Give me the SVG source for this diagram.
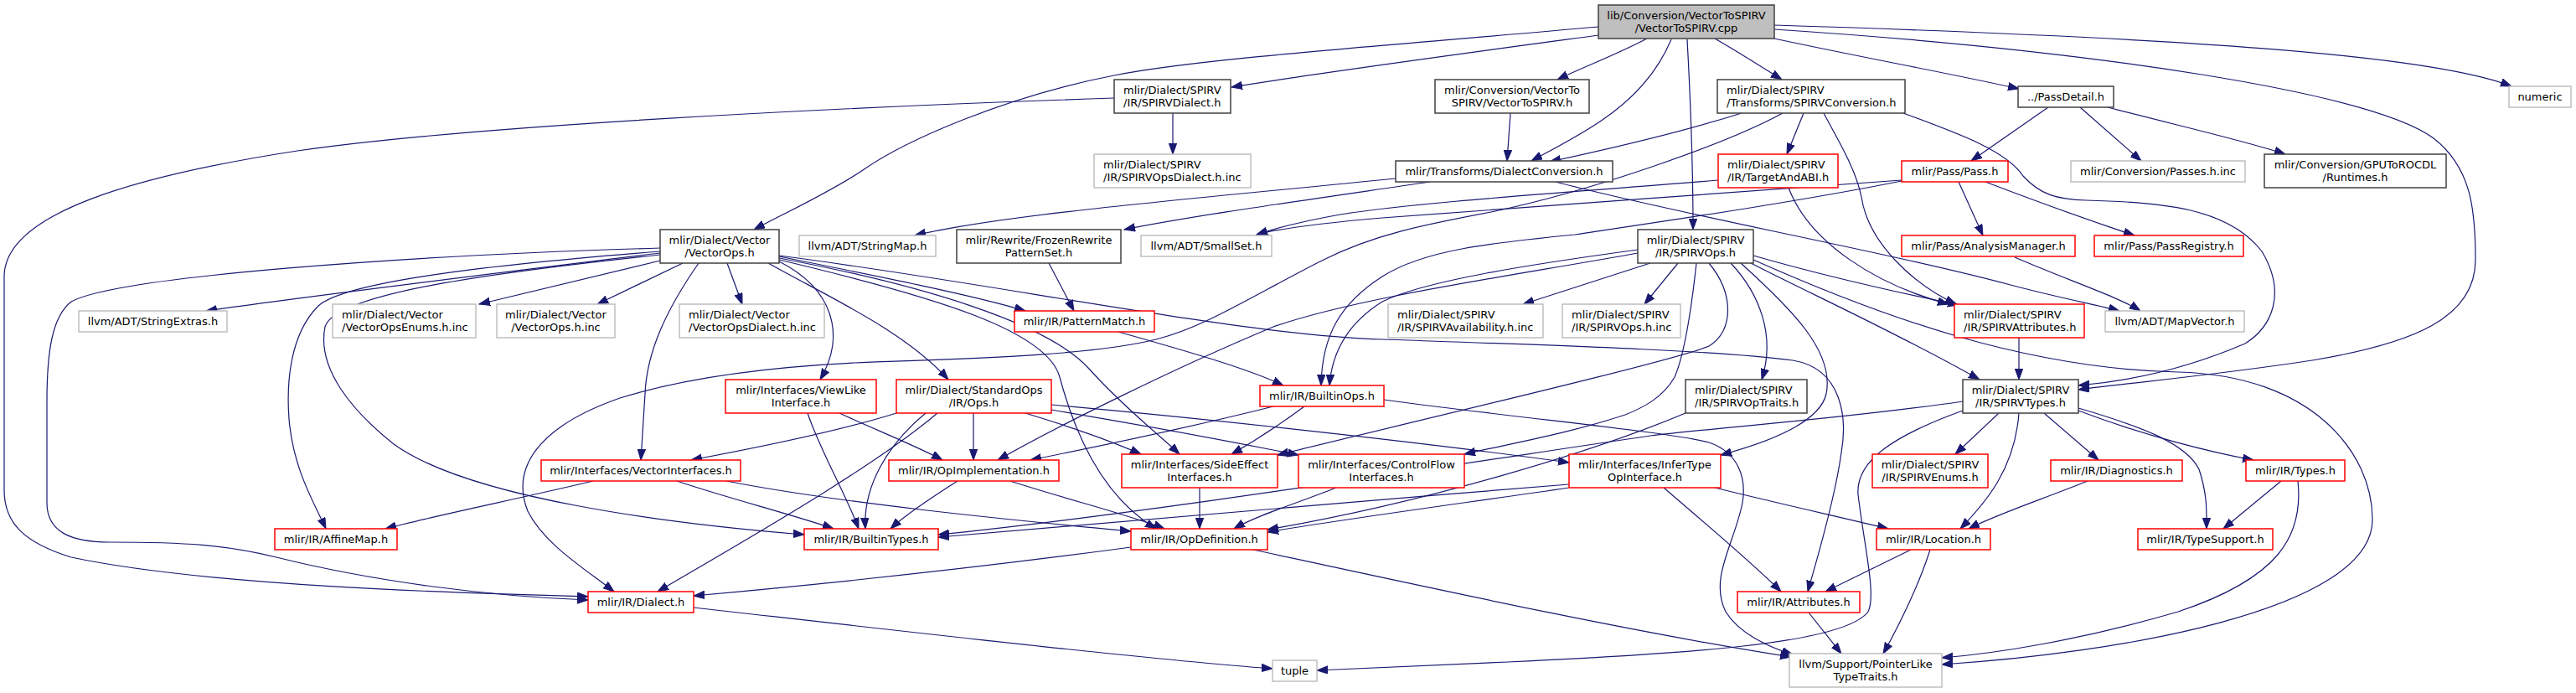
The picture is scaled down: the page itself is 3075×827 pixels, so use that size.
<svg xmlns="http://www.w3.org/2000/svg" width="3075" height="827" viewBox="0 0 3075 827">
<defs>
<marker id="a" markerUnits="userSpaceOnUse" markerWidth="15" markerHeight="11" refX="13" refY="5" orient="auto">
<path d="M0,0.3 L13,5 L0,9.7 Z" fill="#191970" stroke="#191970" stroke-width="1"/>
</marker>
</defs>
<style>
rect{fill:#ffffff;stroke-width:1.5}
.b{stroke:#404040}
.r{stroke:#ff0000}
.g{stroke:#bfbfbf}
.root{fill:#bfbfbf;stroke:#404040}
text{font-family:"DejaVu Sans","Liberation Sans",sans-serif;font-size:13px;fill:#000000}
.c{text-anchor:middle}
.l{text-anchor:start}
#edges path{fill:none;stroke:#191970;stroke-width:1.2;marker-end:url(#a)}
</style>
<rect width="3075" height="827" style="fill:#ffffff;stroke:none"/>
<g id="edges">
<path d="M1908,42 C1760,62 1580,86 1470,104"/>
<path d="M1908,32 C1650,55 1430,70 1330,90 C1200,115 1080,168 1030,203 C990,230 935,255 900,274"/>
<path d="M1966,46 C1930,65 1890,80 1859,95"/>
<path d="M1995,47 C1975,95 1940,125 1910,145 C1880,165 1850,180 1828,192"/>
<path d="M2014,47 C2018,120 2021,200 2021,274"/>
<path d="M2047,46 C2075,62 2100,78 2127,95"/>
<path d="M2118,46 C2220,68 2330,88 2410,106"/>
<path d="M2118,30 C2600,45 2900,65 2998,103"/>
<path d="M2118,35 C2500,60 2830,110 2905,165 C2950,200 2955,250 2955,310 C2955,380 2880,410 2760,430 C2650,447 2550,456 2481,465"/>
<path d="M1400,135 L1400,184"/>
<path d="M1330,117 C1000,128 560,150 355,180 C160,210 5,255 5,330 L5,585 C5,625 30,648 85,665 C250,700 560,708 702,712"/>
<path d="M1803,135 L1799,192"/>
<path d="M2079,135 C2000,160 1920,178 1850,193"/>
<path d="M2153,135 L2133,184"/>
<path d="M2177,135 C2190,160 2215,200 2222,235 C2230,290 2285,340 2335,363"/>
<path d="M2272,135 C2340,160 2395,180 2415,210 C2435,232 2455,238 2490,239 C2580,241 2660,248 2700,300 C2730,350 2712,390 2680,410 C2610,440 2540,455 2481,460"/>
<path d="M2128,135 C2060,172 1900,228 1780,253 C1700,268 1640,280 1580,310 C1500,350 1440,390 1380,405 C1300,425 1150,428 1020,433 C920,438 820,450 740,475 C640,510 610,560 630,610 C650,650 700,680 733,706"/>
<path d="M2051,215 C1900,228 1700,240 1600,256 C1560,263 1530,270 1500,280"/>
<path d="M2135,224 C2160,290 2240,340 2326,363"/>
<path d="M2270,215 C2100,228 1800,248 1650,260 C1580,266 1530,272 1500,280"/>
<path d="M2270,216 C2150,240 2000,262 1880,280 C1780,290 1700,298 1650,330 C1600,362 1578,400 1577,460"/>
<path d="M2338,217 L2367,281"/>
<path d="M2370,217 C2430,240 2500,265 2548,281"/>
<path d="M2445,128 L2353,192"/>
<path d="M2483,128 L2556,192"/>
<path d="M2516,128 C2600,150 2680,168 2728,184"/>
<path d="M1666,213 C1450,235 1200,255 1092,281"/>
<path d="M1707,217 C1550,240 1420,258 1342,274"/>
<path d="M1857,217 C2000,255 2250,300 2400,340 C2460,356 2500,363 2530,371"/>
<path d="M1252,314 L1282,371"/>
<path d="M2405,307 C2470,335 2530,355 2555,371"/>
<path d="M788,296 C480,305 140,330 85,360 C62,378 56,420 56,480 L56,600 C56,635 85,647 131,647 C220,647 270,650 330,665 C450,695 590,712 702,716"/>
<path d="M788,302 C600,325 380,352 246,371"/>
<path d="M788,300 C560,318 410,338 380,365 C345,400 342,460 345,500 C350,560 375,600 389,631"/>
<path d="M788,304 C590,325 400,350 388,390 C378,440 420,490 470,530 C560,595 800,625 960,638"/>
<path d="M788,311 L572,363"/>
<path d="M815,314 L713,363"/>
<path d="M868,314 L886,363"/>
<path d="M834,314 C795,370 772,420 770,470 L765,549"/>
<path d="M930,312 C995,345 1010,400 979,453"/>
<path d="M917,314 C990,355 1080,395 1132,453"/>
<path d="M930,306 C1050,330 1160,352 1224,371"/>
<path d="M930,308 C1100,340 1250,385 1300,440 C1340,485 1385,520 1408,542"/>
<path d="M930,310 C1120,355 1250,395 1265,450 C1285,525 1320,595 1380,631"/>
<path d="M930,305 C1200,340 1480,400 1651,405 C1850,412 2050,418 2140,430 C2200,440 2205,500 2198,540 C2190,600 2165,680 2158,706"/>
<path d="M1970,314 L1818,363"/>
<path d="M2003,314 L1963,363"/>
<path d="M2093,305 C2180,330 2270,350 2338,364"/>
<path d="M2090,314 C2160,350 2270,400 2363,453"/>
<path d="M2066,314 C2100,350 2120,400 2103,453"/>
<path d="M1955,298 C1830,315 1700,335 1650,360 C1610,385 1590,420 1587,460"/>
<path d="M1955,302 C1800,330 1620,355 1520,390 C1400,440 1260,510 1191,549"/>
<path d="M2040,314 C2070,350 2070,395 2040,413 C2000,430 1700,500 1525,543"/>
<path d="M2025,314 C2020,360 2012,420 1999,450 C1985,475 1960,487 1940,495 C1870,518 1800,530 1748,542"/>
<path d="M2078,314 C2140,370 2190,420 2180,470 C2172,505 2110,528 2054,543"/>
<path d="M2093,310 C2250,380 2420,440 2600,444 C2760,448 2832,540 2832,620 C2832,730 2520,780 2318,793"/>
<path d="M2410,403 L2410,453"/>
<path d="M1070,493 C1000,515 900,535 825,549"/>
<path d="M1105,493 C1060,530 1030,580 1033,631"/>
<path d="M1119,493 C1040,560 880,650 785,706"/>
<path d="M1162,493 L1162,549"/>
<path d="M1224,493 C1280,510 1330,528 1362,542"/>
<path d="M1255,489 C1350,505 1460,525 1550,543"/>
<path d="M1255,483 C1500,505 1750,535 1873,552"/>
<path d="M1520,485 C1420,510 1300,535 1230,549"/>
<path d="M1557,485 C1530,505 1500,525 1470,542"/>
<path d="M1652,477 C1820,500 1990,515 2040,528 C2075,540 2085,570 2080,600 C2070,650 2040,690 2060,730 C2075,755 2110,772 2140,781"/>
<path d="M1335,396 C1420,420 1490,440 1532,460"/>
<path d="M964,493 C980,540 1010,590 1025,631"/>
<path d="M1002,493 C1050,515 1100,535 1125,549"/>
<path d="M708,574 C620,595 520,615 460,631"/>
<path d="M808,574 C870,595 950,615 995,631"/>
<path d="M867,574 C1000,600 1200,620 1350,634"/>
<path d="M1143,574 C1110,595 1080,615 1063,631"/>
<path d="M1206,574 C1270,595 1350,615 1390,631"/>
<path d="M1432,582 L1432,631"/>
<path d="M1595,582 C1550,600 1500,615 1473,631"/>
<path d="M1873,578 C1600,600 1300,625 1120,641"/>
<path d="M1873,582 C1750,600 1600,620 1513,635"/>
<path d="M2047,582 C2120,600 2200,618 2254,631"/>
<path d="M1986,582 C2030,620 2090,670 2126,706"/>
<path d="M2012,493 C1900,540 1700,600 1513,632"/>
<path d="M2386,493 L2334,542"/>
<path d="M2410,493 C2405,560 2370,600 2340,631"/>
<path d="M2440,493 L2505,549"/>
<path d="M2481,490 C2560,520 2640,540 2690,549"/>
<path d="M2481,487 C2560,510 2610,530 2625,560 C2635,590 2634,610 2634,631"/>
<path d="M2343,479 C2200,500 2050,510 1970,520 C1700,560 1350,615 1120,638"/>
<path d="M2343,490 C2260,520 2215,550 2218,590 C2225,650 2240,710 2230,730 C2200,770 2000,780 1800,790 C1700,795 1620,798 1572,800"/>
<path d="M2492,574 C2440,595 2380,615 2350,631"/>
<path d="M2723,574 L2654,631"/>
<path d="M2743,574 C2750,640 2720,690 2600,730 C2480,765 2380,780 2318,785"/>
<path d="M2281,656 L2179,706"/>
<path d="M2304,656 C2290,700 2265,750 2248,780"/>
<path d="M2159,731 L2198,780"/>
<path d="M1350,653 C1150,680 950,700 828,711"/>
<path d="M1496,656 C1700,700 1950,755 2138,784"/>
<path d="M828,725 C1050,750 1350,785 1519,798"/>
</g>
<g id="n_root"><rect class="root" x="1908" y="6" width="210" height="40"/><text class="c" x="2013" y="23">lib/Conversion/VectorToSPIRV</text><text class="c" x="2013" y="37.5">/VectorToSPIRV.cpp</text></g>
<g id="n_spirvdialect"><rect class="b" x="1330" y="95" width="139" height="40"/><text class="l" x="1341" y="112">mlir/Dialect/SPIRV</text><text class="l" x="1341" y="126.5">/IR/SPIRVDialect.h</text></g>
<g id="n_vectortospirvh"><rect class="b" x="1713" y="95" width="184" height="40"/><text class="c" x="1805" y="112">mlir/Conversion/VectorTo</text><text class="c" x="1805" y="126.5">SPIRV/VectorToSPIRV.h</text></g>
<g id="n_spirvconversion"><rect class="b" x="2050" y="95" width="224" height="40"/><text class="l" x="2061" y="112">mlir/Dialect/SPIRV</text><text class="l" x="2061" y="126.5">/Transforms/SPIRVConversion.h</text></g>
<g id="n_passdetail"><rect class="b" x="2409" y="103" width="114" height="25"/><text class="c" x="2466" y="119.5">../PassDetail.h</text></g>
<g id="n_numeric"><rect class="g" x="2995" y="103" width="74" height="25"/><text class="c" x="3032" y="119.5">numeric</text></g>
<g id="n_spirvopsdialectinc"><rect class="g" x="1306" y="184" width="187" height="40"/><text class="l" x="1317" y="201">mlir/Dialect/SPIRV</text><text class="l" x="1317" y="215.5">/IR/SPIRVOpsDialect.h.inc</text></g>
<g id="n_dialectconversion"><rect class="b" x="1666" y="192" width="259" height="25"/><text class="c" x="1795.5" y="208.5">mlir/Transforms/DialectConversion.h</text></g>
<g id="n_targetandabi"><rect class="r" x="2051" y="184" width="143" height="40"/><text class="l" x="2062" y="201">mlir/Dialect/SPIRV</text><text class="l" x="2062" y="215.5">/IR/TargetAndABI.h</text></g>
<g id="n_pass"><rect class="r" x="2270" y="192" width="127" height="25"/><text class="c" x="2333.5" y="208.5">mlir/Pass/Pass.h</text></g>
<g id="n_passesinc"><rect class="g" x="2472" y="192" width="208" height="25"/><text class="c" x="2576" y="208.5">mlir/Conversion/Passes.h.inc</text></g>
<g id="n_gputorocdl"><rect class="b" x="2703" y="184" width="217" height="40"/><text class="c" x="2811.5" y="201">mlir/Conversion/GPUToROCDL</text><text class="c" x="2811.5" y="215.5">/Runtimes.h</text></g>
<g id="n_vectorops"><rect class="b" x="788" y="274" width="142" height="40"/><text class="c" x="859" y="291">mlir/Dialect/Vector</text><text class="c" x="859" y="305.5">/VectorOps.h</text></g>
<g id="n_stringmap"><rect class="g" x="954" y="281" width="163" height="25"/><text class="c" x="1035.5" y="297.5">llvm/ADT/StringMap.h</text></g>
<g id="n_frozenrewrite"><rect class="b" x="1142" y="274" width="196" height="40"/><text class="c" x="1240" y="291">mlir/Rewrite/FrozenRewrite</text><text class="c" x="1240" y="305.5">PatternSet.h</text></g>
<g id="n_smallset"><rect class="g" x="1362" y="281" width="156" height="25"/><text class="c" x="1440" y="297.5">llvm/ADT/SmallSet.h</text></g>
<g id="n_spirvops"><rect class="b" x="1955" y="274" width="138" height="40"/><text class="c" x="2024" y="291">mlir/Dialect/SPIRV</text><text class="c" x="2024" y="305.5">/IR/SPIRVOps.h</text></g>
<g id="n_analysismanager"><rect class="r" x="2270" y="281" width="207" height="25"/><text class="c" x="2373.5" y="297.5">mlir/Pass/AnalysisManager.h</text></g>
<g id="n_passregistry"><rect class="r" x="2500" y="281" width="178" height="25"/><text class="c" x="2589" y="297.5">mlir/Pass/PassRegistry.h</text></g>
<g id="n_stringextras"><rect class="g" x="94" y="371" width="177" height="25"/><text class="c" x="182.5" y="387.5">llvm/ADT/StringExtras.h</text></g>
<g id="n_vectoropsenums"><rect class="g" x="397" y="363" width="171" height="40"/><text class="l" x="408" y="380">mlir/Dialect/Vector</text><text class="l" x="408" y="394.5">/VectorOpsEnums.h.inc</text></g>
<g id="n_vectoropsinc"><rect class="g" x="593" y="363" width="141" height="40"/><text class="c" x="663.5" y="380">mlir/Dialect/Vector</text><text class="c" x="663.5" y="394.5">/VectorOps.h.inc</text></g>
<g id="n_vectoropsdialectinc"><rect class="g" x="811" y="363" width="173" height="40"/><text class="l" x="822" y="380">mlir/Dialect/Vector</text><text class="l" x="822" y="394.5">/VectorOpsDialect.h.inc</text></g>
<g id="n_patternmatch"><rect class="r" x="1211" y="371" width="167" height="25"/><text class="c" x="1294.5" y="387.5">mlir/IR/PatternMatch.h</text></g>
<g id="n_spirvavailability"><rect class="g" x="1657" y="363" width="185" height="40"/><text class="l" x="1668" y="380">mlir/Dialect/SPIRV</text><text class="l" x="1668" y="394.5">/IR/SPIRVAvailability.h.inc</text></g>
<g id="n_spirvopsinc"><rect class="g" x="1865" y="363" width="141" height="40"/><text class="l" x="1876" y="380">mlir/Dialect/SPIRV</text><text class="l" x="1876" y="394.5">/IR/SPIRVOps.h.inc</text></g>
<g id="n_spirvattributes"><rect class="r" x="2333" y="363" width="155" height="40"/><text class="l" x="2344" y="380">mlir/Dialect/SPIRV</text><text class="l" x="2344" y="394.5">/IR/SPIRVAttributes.h</text></g>
<g id="n_mapvector"><rect class="g" x="2513" y="371" width="166" height="25"/><text class="c" x="2596" y="387.5">llvm/ADT/MapVector.h</text></g>
<g id="n_viewlike"><rect class="r" x="866" y="453" width="180" height="40"/><text class="c" x="956" y="470">mlir/Interfaces/ViewLike</text><text class="c" x="956" y="484.5">Interface.h</text></g>
<g id="n_standardops"><rect class="r" x="1070" y="453" width="185" height="40"/><text class="c" x="1162.5" y="470">mlir/Dialect/StandardOps</text><text class="c" x="1162.5" y="484.5">/IR/Ops.h</text></g>
<g id="n_builtinops"><rect class="r" x="1504" y="460" width="148" height="25"/><text class="c" x="1578" y="476.5">mlir/IR/BuiltinOps.h</text></g>
<g id="n_spirvoptraits"><rect class="b" x="2012" y="453" width="145" height="40"/><text class="l" x="2023" y="470">mlir/Dialect/SPIRV</text><text class="l" x="2023" y="484.5">/IR/SPIRVOpTraits.h</text></g>
<g id="n_spirvtypes"><rect class="b" x="2343" y="453" width="138" height="40"/><text class="c" x="2412" y="470">mlir/Dialect/SPIRV</text><text class="c" x="2412" y="484.5">/IR/SPIRVTypes.h</text></g>
<g id="n_vectorinterfaces"><rect class="r" x="646" y="549" width="238" height="25"/><text class="c" x="765" y="565.5">mlir/Interfaces/VectorInterfaces.h</text></g>
<g id="n_opimplementation"><rect class="r" x="1061" y="549" width="203" height="25"/><text class="c" x="1162.5" y="565.5">mlir/IR/OpImplementation.h</text></g>
<g id="n_sideeffect"><rect class="r" x="1339" y="542" width="186" height="40"/><text class="c" x="1432" y="559">mlir/Interfaces/SideEffect</text><text class="c" x="1432" y="573.5">Interfaces.h</text></g>
<g id="n_controlflow"><rect class="r" x="1550" y="542" width="198" height="40"/><text class="c" x="1649" y="559">mlir/Interfaces/ControlFlow</text><text class="c" x="1649" y="573.5">Interfaces.h</text></g>
<g id="n_infertype"><rect class="r" x="1873" y="542" width="181" height="40"/><text class="c" x="1963.5" y="559">mlir/Interfaces/InferType</text><text class="c" x="1963.5" y="573.5">OpInterface.h</text></g>
<g id="n_spirvenums"><rect class="r" x="2235" y="542" width="138" height="40"/><text class="c" x="2304" y="559">mlir/Dialect/SPIRV</text><text class="c" x="2304" y="573.5">/IR/SPIRVEnums.h</text></g>
<g id="n_diagnostics"><rect class="r" x="2448" y="549" width="157" height="25"/><text class="c" x="2526.5" y="565.5">mlir/IR/Diagnostics.h</text></g>
<g id="n_types"><rect class="r" x="2681" y="549" width="118" height="25"/><text class="c" x="2740" y="565.5">mlir/IR/Types.h</text></g>
<g id="n_affinemap"><rect class="r" x="328" y="631" width="146" height="25"/><text class="c" x="401" y="647.5">mlir/IR/AffineMap.h</text></g>
<g id="n_builtintypes"><rect class="r" x="960" y="631" width="160" height="25"/><text class="c" x="1040" y="647.5">mlir/IR/BuiltinTypes.h</text></g>
<g id="n_opdefinition"><rect class="r" x="1350" y="631" width="163" height="25"/><text class="c" x="1431.5" y="647.5">mlir/IR/OpDefinition.h</text></g>
<g id="n_location"><rect class="r" x="2240" y="631" width="136" height="25"/><text class="c" x="2308" y="647.5">mlir/IR/Location.h</text></g>
<g id="n_typesupport"><rect class="r" x="2552" y="631" width="161" height="25"/><text class="c" x="2632.5" y="647.5">mlir/IR/TypeSupport.h</text></g>
<g id="n_dialect"><rect class="r" x="702" y="706" width="126" height="25"/><text class="c" x="765" y="722.5">mlir/IR/Dialect.h</text></g>
<g id="n_attributes"><rect class="r" x="2074" y="706" width="146" height="25"/><text class="c" x="2147" y="722.5">mlir/IR/Attributes.h</text></g>
<g id="n_tuple"><rect class="g" x="1519" y="788" width="53" height="25"/><text class="c" x="1545.5" y="804.5">tuple</text></g>
<g id="n_pointerlike"><rect class="g" x="2136" y="780" width="182" height="40"/><text class="c" x="2227" y="797">llvm/Support/PointerLike</text><text class="c" x="2227" y="811.5">TypeTraits.h</text></g>
</svg>
